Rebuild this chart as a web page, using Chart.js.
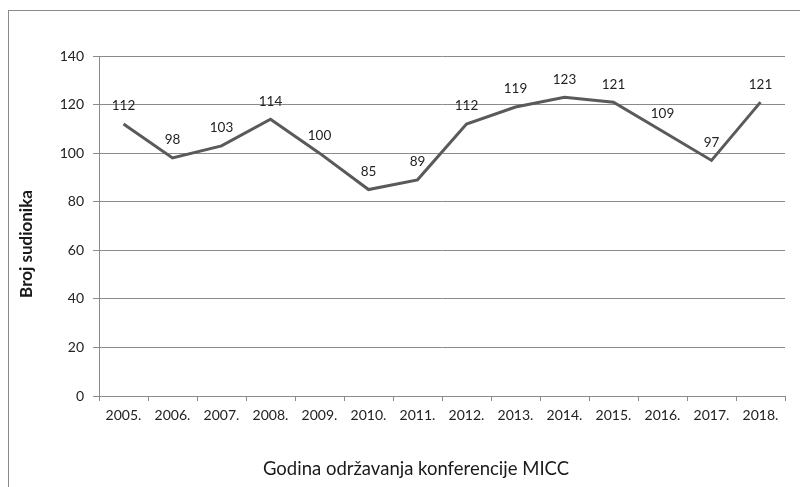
<!DOCTYPE html>
<html><head><meta charset="utf-8">
<script src="https://cdn.jsdelivr.net/npm/chart.js@4/dist/chart.umd.min.js"></script>
<style>
html,body{margin:0;padding:0;background:#fff;}
#wrap{position:absolute;left:8px;top:10px;width:792px;height:477px;border-top:1px solid #8a8a8a;border-left:1px solid #8a8a8a;}
canvas{display:block;}
</style></head>
<body>
<div id="wrap"><canvas id="c" width="791" height="476"></canvas></div>
<script>
const categories = ['2005.','2006.','2007.','2008.','2009.','2010.','2011.','2012.','2013.','2014.','2015.','2016.','2017.','2018.'];
const participants = [112, 98, 103, 114, 100, 85, 89, 112, 119, 123, 121, 109, 97, 121];
const yTicks = [0, 20, 40, 60, 80, 100, 120, 140];
const xTitle = 'Godina održavanja konferencije MICC';
const yTitle = 'Broj sudionika';

const FONT = 'Lato, "Open Sans", sans-serif';

const labelPlugin = {
  id: 'labels',
  afterDatasetsDraw(chart) {
    const ctx = chart.ctx;
    const meta = chart.getDatasetMeta(0);
    ctx.save();
    ctx.font = '13.5px ' + FONT;
    ctx.fillStyle = '#222';
    ctx.textAlign = 'center';
    ctx.textBaseline = 'middle';
    meta.data.forEach((pt, i) => {
      ctx.fillText(String(participants[i]), pt.x, pt.y - 18);
    });
    ctx.fillStyle = '#1a1a1a';
    ctx.font = '18.5px ' + FONT;
    ctx.fillText(xTitle, 407, 458);
    ctx.translate(18, 233);
    ctx.rotate(-Math.PI/2);
    ctx.font = 'bold 17px ' + FONT;
    ctx.fillText(yTitle, 0, 0);
    ctx.restore();
  }
};

new Chart(document.getElementById('c'), {
  type: 'line',
  data: {
    labels: categories,
    datasets: [{
      data: participants,
      borderColor: '#5a5a5a',
      borderWidth: 3,
      pointRadius: 0,
      tension: 0,
      fill: false
    }]
  },
  options: {
    responsive: false,
    animation: false,
    devicePixelRatio: 1,
    layout: { padding: { left: 0, right: 15, top: 45, bottom: 0 } },
    plugins: { legend: { display: false }, tooltip: { enabled: false } },
    scales: {
      x: {
        offset: true,
        grid: { offset: true, drawOnChartArea: false, drawTicks: true, tickLength: 5, color: '#8a8a8a' },
        border: { color: '#8a8a8a' },
        ticks: { color: '#222', font: { family: FONT, size: 14 }, padding: 6, maxRotation: 0, autoSkip: false },
        afterFit(s) { s.height = 91; }
      },
      y: {
        min: 0, max: 140,
        afterBuildTicks(s) { s.ticks = yTicks.map(v => ({ value: v })); },
        grid: { color: '#8a8a8a', tickLength: 6 },
        border: { color: '#8a8a8a' },
        ticks: { color: '#222', font: { family: FONT, size: 14 }, padding: 9 },
        afterFit(s) { s.width = 90; }
      }
    }
  },
  plugins: [labelPlugin]
});
</script>
</body></html>
